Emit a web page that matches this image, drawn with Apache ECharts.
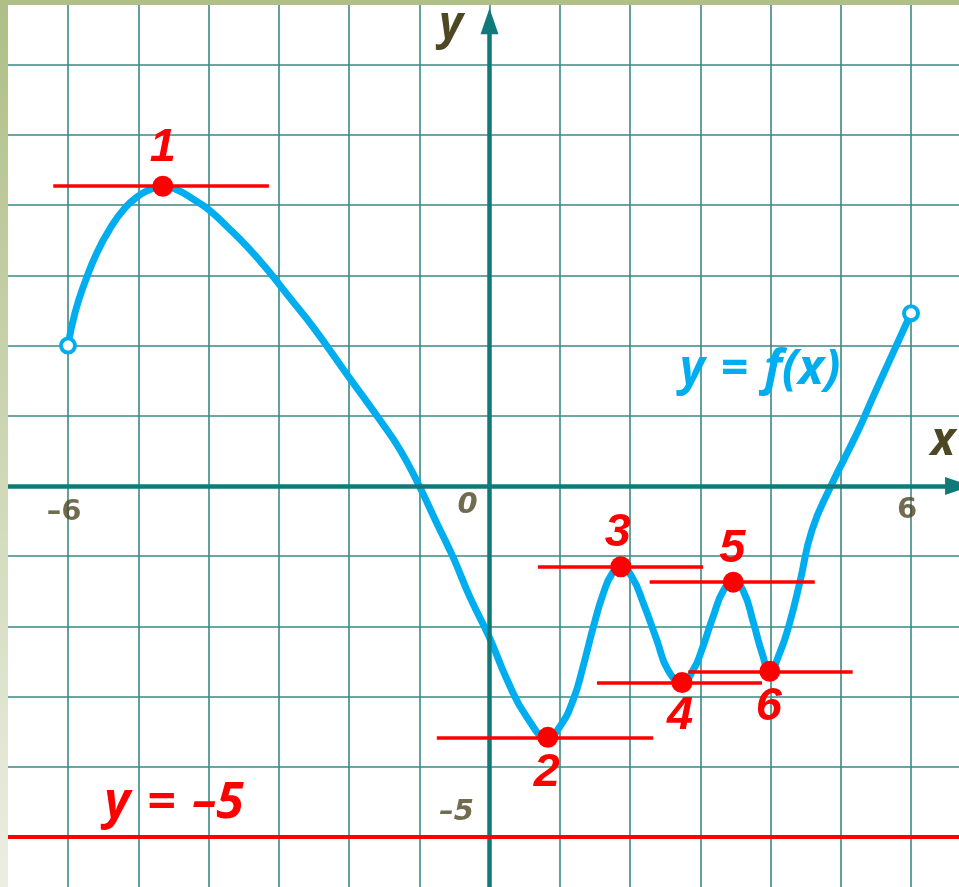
<!DOCTYPE html>
<html>
<head>
<meta charset="utf-8">
<script src="https://cdn.jsdelivr.net/npm/echarts@6/dist/echarts.min.js"></script>
<style>
  html, body { margin: 0; padding: 0; background: #fff; }
  #chart { width: 959px; height: 887px; }
</style>
</head>
<body>
<div id="chart"></div>
<script>
// curve y = f(x)
const curveX = [-6, -5.9, -5.76, -5.59, -5.4, -5.19, -5.0, -4.84, -4.65, -4.45, -4.21, -4.0, -3.73, -3.45, -3.16, -2.85, -2.5, -2.0, -1.56, -1.27, -1.0, -0.75, -0.52, -0.28, 0, 0.25, 0.53, 0.83, 1.0, 1.19, 1.33, 1.48, 1.62, 1.75, 1.87, 2.03, 2.19, 2.38, 2.54, 2.74, 2.9, 3.02, 3.18, 3.33, 3.47, 3.61, 3.76, 3.88, 3.99, 4.13, 4.27, 4.42, 4.59, 4.86, 5.23, 5.46, 5.7, 6.0];
const curveY = [2.0, 2.47, 2.9, 3.32, 3.67, 3.96, 4.13, 4.22, 4.27, 4.22, 4.08, 3.94, 3.69, 3.41, 3.08, 2.69, 2.25, 1.55, 0.94, 0.51, 0.0, -0.53, -1.01, -1.58, -2.16, -2.76, -3.29, -3.58, -3.43, -3.05, -2.58, -2.0, -1.53, -1.24, -1.15, -1.3, -1.67, -2.19, -2.62, -2.8, -2.62, -2.34, -1.87, -1.49, -1.37, -1.49, -1.96, -2.38, -2.64, -2.38, -1.96, -1.36, -0.63, 0.0, 0.75, 1.27, 1.8, 2.46];

// extremum points and their horizontal tangents
const extremaX = [-4.65, 0.83, 1.87, 2.74, 3.47, 3.99];
const extremaY = [4.27, -3.58, -1.15, -2.8, -1.37, -2.64];
const extremaName = ['1', '2', '3', '4', '5', '6'];
const tangentFrom = [-6.21, -0.75, 0.69, 1.53, 2.28, 2.83];
const tangentTo = [-3.14, 2.33, 3.04, 3.88, 4.63, 5.17];

const boundY = -5;

const xTickValues = [-6, 0, 6];
const xTickText = ['–6', '0', '6'];
const yTickValues = [-5];
const yTickText = ['–5'];

const BLUE = '#00aeef';
const RED = '#ff0000';
const TEAL = '#0f7a78';
const GRIDC = '#3b8985';
const DARK = '#4d4724';

const chart = echarts.init(document.getElementById('chart'));

const curveData = curveX.map((x, i) => [x, curveY[i]]);
const endPoints = [curveData[0], curveData[curveData.length - 1]];

// label offsets for the numbered points (above for maxima, below for minima)
const numOffsets = [[0, -38], [-1, 36], [-3, -34], [-2, 33], [-1, -33], [-1, 36]];
const extremaData = extremaX.map((x, i) => ({
  value: [x, extremaY[i]],
  label: { formatter: extremaName[i], offset: numOffsets[i] }
}));

const tickOffsets = [[-4, 26], [-22, 19], [-4, 24]];
const tickData = xTickValues.map((x, i) => ({
  value: [x, 0],
  label: {
    formatter: xTickText[i],
    offset: tickOffsets[i],
    fontStyle: xTickText[i] === '0' ? 'italic' : 'normal'
  }
})).concat(yTickValues.map((y, i) => ({
  value: [0, y],
  label: { formatter: yTickText[i], offset: [-33, -25], fontStyle: 'italic' }
})));

const SP = '\u2004';

chart.setOption({
  animation: false,
  backgroundColor: '#ffffff',
  grid: { left: -2.25, right: -22.25, top: -5.4, bottom: -20.2, outerBoundsMode: 'none', containLabel: false },
  xAxis: {
    type: 'value', min: -7, max: 7, interval: 1,
    axisLine: { show: false }, axisTick: { show: false }, axisLabel: { show: false },
    splitLine: { show: true, lineStyle: { color: GRIDC, width: 1.6 } }
  },
  yAxis: {
    type: 'value', min: -6, max: 7, interval: 1,
    axisLine: { show: false }, axisTick: { show: false }, axisLabel: { show: false },
    splitLine: { show: true, lineStyle: { color: GRIDC, width: 1.6 } }
  },
  series: [
    {
      // coordinate axes with arrows
      type: 'line', data: [], silent: true,
      markLine: {
        silent: true,
        symbol: ['none', 'triangle'],
        symbolSize: [18, 26],
        label: { show: false },
        lineStyle: { color: TEAL, width: 4.5, type: 'solid' },
        data: [
          [{ coord: [-7, 0] }, { coord: [6.67, 0] }],
          [{ coord: [0, -6] }, { coord: [0, 6.62] }]
        ]
      }
    },
    {
      type: 'line', data: [], silent: true,
      markLine: {
        silent: true, symbol: 'none',
        label: { show: false },
        lineStyle: { color: RED, width: 4, type: 'solid' },
        data: [{ yAxis: boundY }]
      }
    },
    {
      type: 'line',
      data: curveData,
      smooth: 0.5,
      showSymbol: false,
      lineStyle: { color: BLUE, width: 7, cap: 'round', join: 'round' },
      z: 3
    },
    {
      type: 'line', data: [], silent: true, z: 4,
      markLine: {
        silent: true, symbol: 'none',
        label: { show: false },
        lineStyle: { color: RED, width: 3.5, type: 'solid' },
        data: extremaX.map((x, i) => [
          { coord: [tangentFrom[i], extremaY[i]] },
          { coord: [tangentTo[i], extremaY[i]] }
        ])
      }
    },
    {
      type: 'scatter',
      data: endPoints,
      symbolSize: 14,
      itemStyle: { color: '#ffffff', borderColor: BLUE, borderWidth: 4, opacity: 1 },
      z: 5
    },
    {
      type: 'scatter',
      data: extremaData,
      symbolSize: 21,
      itemStyle: { color: RED, opacity: 1 },
      label: {
        show: true, position: 'inside',
        color: RED, fontSize: 47, fontWeight: 'bold', fontStyle: 'italic',
        fontFamily: 'Liberation Sans'
      },
      z: 6
    },
    {
      type: 'scatter',
      data: tickData,
      symbolSize: 1,
      itemStyle: { color: 'transparent' },
      label: {
        show: true, position: 'inside',
        color: DARK, fontSize: 29, fontWeight: 'bold',
        fontFamily: 'DejaVu Sans'
      },
      z: 6
    }
  ],
  graphic: [
    {
      type: 'rect', left: 0, top: 0, z: 100,
      shape: { width: 8, height: 887 },
      style: {
        fill: new echarts.graphic.LinearGradient(0, 0, 0, 1, [
          { offset: 0, color: '#afbe86' },
          { offset: 1, color: '#eceee2' }
        ])
      }
    },
    {
      type: 'rect', left: 0, top: 0, z: 100,
      shape: { width: 959, height: 5 },
      style: { fill: '#b0bf88' }
    },
    {
      type: 'text', x: 760, y: 370, z: 50,
      style: {
        text: 'y' + SP + '=' + SP + 'f(x)', fill: BLUE, align: 'center', verticalAlign: 'middle',
        font: 'italic bold 48px "Noto Sans"'
      }
    },
    {
      type: 'text', x: 174, y: 804, z: 50,
      style: {
        text: 'y' + SP + '=' + SP + '–5', fill: RED, align: 'center', verticalAlign: 'middle',
        font: 'italic bold 50px "Noto Sans"'
      }
    },
    {
      type: 'text', x: 943, y: 442, z: 50,
      style: {
        text: 'x', fill: DARK, align: 'center', verticalAlign: 'middle',
        font: 'italic bold 46px "Noto Sans"'
      }
    },
    {
      type: 'text', x: 451, y: 26, z: 50,
      style: {
        text: 'y', fill: DARK, align: 'center', verticalAlign: 'middle',
        font: 'italic bold 46px "Noto Sans"'
      }
    }
  ]
});
</script>
</body>
</html>
